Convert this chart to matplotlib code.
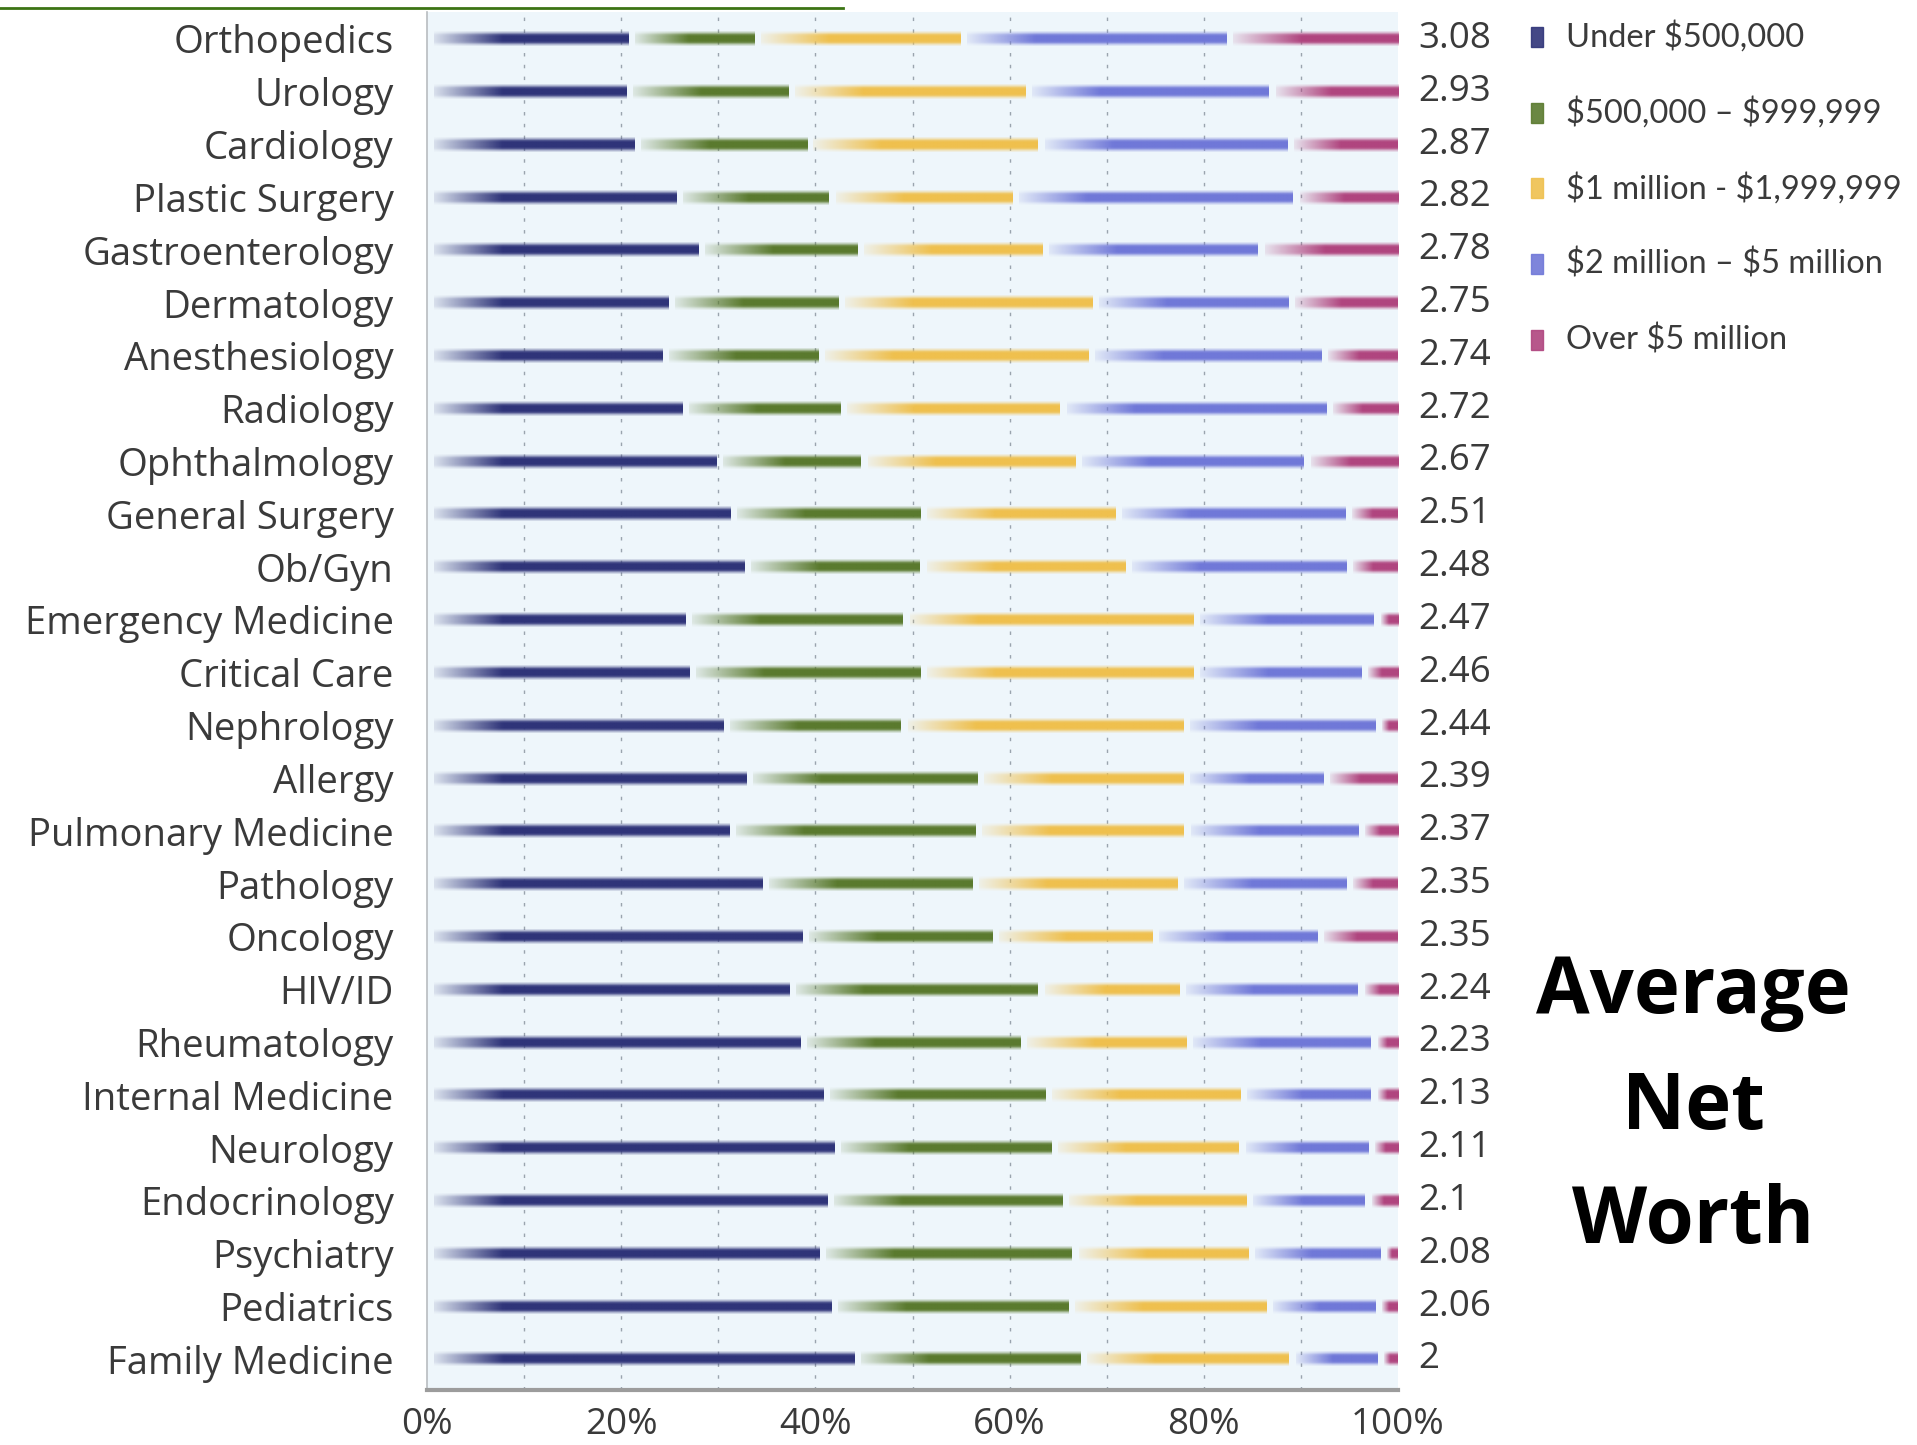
import matplotlib.pyplot as plt
import numpy as np
from matplotlib.colors import to_rgb
from matplotlib.patches import Rectangle
from matplotlib.lines import Line2D

plt.rcParams['font.family'] = ['Open Sans', 'DejaVu Sans']

specialties = ['Orthopedics', 'Urology', 'Cardiology', 'Plastic Surgery', 'Gastroenterology',
               'Dermatology', 'Anesthesiology', 'Radiology', 'Ophthalmology', 'General Surgery',
               'Ob/Gyn', 'Emergency Medicine', 'Critical Care', 'Nephrology', 'Allergy',
               'Pulmonary Medicine', 'Pathology', 'Oncology', 'HIV/ID', 'Rheumatology',
               'Internal Medicine', 'Neurology', 'Endocrinology', 'Psychiatry', 'Pediatrics',
               'Family Medicine']
avg_net_worth = [3.08, 2.93, 2.87, 2.82, 2.78, 2.75, 2.74, 2.72, 2.67, 2.51, 2.48, 2.47, 2.46,
                 2.44, 2.39, 2.37, 2.35, 2.35, 2.24, 2.23, 2.13, 2.11, 2.1, 2.08, 2.06, 2]

# share of physicians in each net worth bracket (%)
under_500k = [20.7, 20.5, 21.3, 25.7, 27.9, 24.8, 24.2, 26.3, 29.8, 31.2, 32.7, 26.6, 27.0,
              30.5, 32.9, 31.1, 34.5, 38.6, 37.3, 38.4, 40.8, 41.9, 41.2, 40.4, 41.6, 44.0]
from_500k_to_1m = [13.0, 16.7, 17.8, 15.7, 16.4, 17.5, 16.1, 16.3, 14.9, 19.6, 18.1, 22.4, 23.8,
                   18.3, 23.8, 25.4, 21.7, 19.6, 25.6, 22.7, 22.9, 22.4, 24.2, 26.0, 24.4, 23.3]
from_1m_to_2m = [21.2, 24.4, 23.8, 18.9, 19.1, 26.2, 27.8, 22.6, 22.1, 20.1, 21.1, 29.9, 28.1,
                 29.1, 21.2, 21.5, 21.1, 16.5, 14.6, 17.1, 20.1, 19.3, 19.0, 18.2, 20.4, 21.5]
from_2m_to_5m = [27.4, 25.1, 25.7, 28.9, 22.2, 20.2, 24.0, 27.4, 23.5, 23.7, 22.8, 18.6, 17.3,
                 19.8, 14.4, 17.9, 17.4, 17.0, 18.4, 19.0, 13.4, 13.3, 12.2, 13.6, 11.3, 9.1]
over_5m = [17.7, 13.3, 11.4, 10.8, 14.4, 11.3, 7.9, 7.4, 9.7, 5.4, 5.3, 2.5, 3.8,
           2.3, 7.7, 4.1, 5.3, 8.3, 4.1, 2.8, 2.8, 3.1, 3.4, 1.8, 2.3, 2.1]

brackets = ['Under $500,000', '$500,000 – $999,999', '$1 million - $1,999,999',
            '$2 million – $5 million', 'Over $5 million']
colors = ['#2f3479', '#5a7a2e', '#efc04e', '#7078d8', '#b0457f']
series = [under_500k, from_500k_to_1m, from_1m_to_2m, from_2m_to_5m, over_5m]

text_color = '#3a3a3a'
W, H = 1917, 1445

fig = plt.figure(figsize=(W / 100, H / 100), dpi=100)
ax = fig.add_axes([427 / W, 1 - 1390 / H, 971 / W, 1378 / H])
ax.set_facecolor('#eef6fb')

# vertical soft edge profile for each bar
profile = np.array([0.15, 0.5, 0.9, 1, 1, 1, 1, 0.9, 0.5, 0.15])
gap = 0.7
bar_h = 0.27

left = np.zeros(len(specialties))
for vals, col in zip(series, colors):
    rgb = np.array(to_rgb(col))
    for i, v in enumerate(vals):
        x0 = left[i] + gap
        x1 = left[i] + v
        if x1 <= x0:
            x1 = x0 + 0.4
        xs = np.linspace(x0, x1, 160)
        fade = min(7.0, 0.45 * (x1 - x0))
        ramp = np.clip(0.12 + 0.88 * (xs - x0) / fade, 0, 1)
        img = np.zeros((len(profile), len(xs), 4))
        img[..., :3] = rgb
        img[..., 3] = profile[:, None] * ramp[None, :]
        ax.imshow(img, extent=(x0, x1, i + bar_h / 2, i - bar_h / 2),
                  aspect='auto', interpolation='bilinear', zorder=3)
    left += np.array(vals)

ax.set_xlim(0, 100)
ax.set_ylim(len(specialties) - 0.42, -0.51)

ax.set_yticks(range(len(specialties)))
ax.set_yticklabels(specialties, fontsize=27.5, color=text_color)
ax.set_xticks(range(0, 101, 20))
ax.set_xticklabels([f'{t}%' for t in range(0, 101, 20)], fontsize=26.5, color=text_color)
ax.set_xticks(range(10, 100, 10), minor=True)
ax.xaxis.remove_overlapping_locs = False
ax.tick_params(axis='y', length=0, pad=24)
ax.tick_params(axis='x', which='both', length=0, pad=12)
ax.grid(axis='x', which='minor', color='#9aa4ae', linestyle=(0, (2.5, 6)), linewidth=1.0, zorder=1)
ax.grid(axis='x', which='major', visible=False)

for s in ['top', 'right']:
    ax.spines[s].set_visible(False)
ax.spines['left'].set_color('#b8bcc0')
ax.spines['left'].set_linewidth(1.2)
ax.spines['bottom'].set_color('#9c9c9c')
ax.spines['bottom'].set_linewidth(3)

# average net worth column
for i, v in enumerate(avg_net_worth):
    ax.text(102.1, i, f'{v:g}', fontsize=26.5, color=text_color, va='center', ha='left',
            clip_on=False)

# legend
legend_y = [36.7, 112.5, 188.3, 264, 340]
for y, lab, col in zip(legend_y, brackets, colors):
    fig.add_artist(Rectangle((1531 / W, 1 - (y + 10) / H), 12 / W, 20 / H,
                             transform=fig.transFigure, color=col, alpha=0.9))
    fig.text(1566 / W, 1 - y / H, lab, fontsize=23.5, color=text_color, va='center', ha='left',
             family=['Lato', 'DejaVu Sans'], parse_math=False)

for y, word in zip([993, 1109, 1223], ['Average', 'Net', 'Worth']):
    fig.text(1693 / W, 1 - y / H, word, fontsize=56, fontweight='bold', color='black',
             va='center', ha='center')

fig.add_artist(Line2D([0, 843 / W], [1 - 8 / H, 1 - 8 / H], transform=fig.transFigure,
                      color='#3c7414', linewidth=2))

fig.savefig('out.png', dpi=100, facecolor='white')
